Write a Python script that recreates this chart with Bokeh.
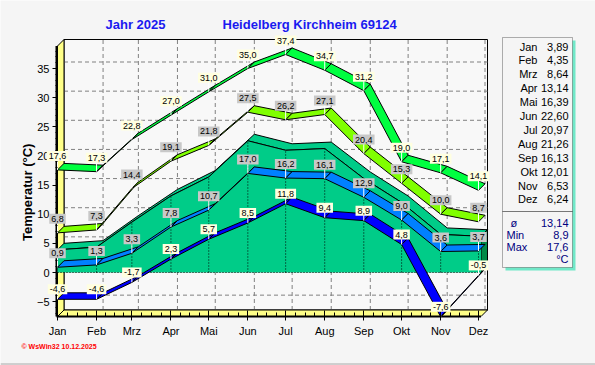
import math
from bokeh.plotting import figure
from bokeh.models import (Range1d, FixedTicker, Label, LabelSet,
                          ColumnDataSource, BoxAnnotation, LinearAxis)
from bokeh.core.properties import value
from bokeh.embed import file_html
from bokeh.resources import INLINE

# ---------------- data ----------------
months = ["Jan", "Feb", "Mrz", "Apr", "Mai", "Jun", "Jul", "Aug", "Sep", "Okt", "Nov", "Dez"]
month_start_day = [0, 31, 59, 90, 120, 151, 181, 212, 243, 273, 304, 334]
t_max = [17.6, 17.3, 22.8, 27.0, 31.0, 35.0, 37.4, 34.7, 31.2, 19.0, 17.1, 14.1]
t_avg_max = [6.8, 7.3, 14.4, 19.1, 21.8, 27.5, 26.2, 27.1, 20.4, 15.3, 10.0, 8.7]
t_mean = [3.89, 4.35, 8.64, 13.14, 16.39, 22.60, 20.97, 21.26, 16.13, 12.01, 6.53, 6.24]
t_avg_min = [0.9, 1.3, 3.3, 7.8, 10.7, 17.0, 16.2, 16.1, 12.9, 9.0, 3.6, 3.7]
t_min = [-4.6, -4.6, -1.7, 2.3, 5.7, 8.5, 11.8, 9.4, 8.9, 4.8, -7.6, -0.5]
stat_names = ["ø", "Min", "Max"]
stat_values = [13.14, 8.9, 17.6]
y_major_ticks = [-5, 0, 5, 10, 15, 20, 25, 30, 35]

# ---------------- layout constants (page pixels) ----------------
PAGE = 0
W, H = 595, 365
FL, FR, FT, FB = 57, 487, 39, 316          # 3D box on page (front-left/back-right)
KX = (478 - 57) / 334                       # px per day
KY = 204 / 35                               # px per degree
Y0 = 272                                    # page y of 0 degC (front)


def X(px):
    return (px - FL) / KX


def Y(py):
    return (Y0 - py) / KY


x_hi = X(FR)
y_lo = Y(FB)
y_hi = Y(FT)
DEPTH = 6.5
DX = DEPTH / KX
DY = DEPTH / KY
XF_END = x_hi - DX                          # front right edge


def fmt1(v):
    return f"{v:.1f}".replace(".", ",")


def fmt2(v):
    return f"{v:.2f}".replace(".", ",")


FONT = "Liberation Sans"
BG = "#F5F5F5"

p = figure(width=W, height=H,
           x_range=Range1d(X(PAGE), X(PAGE + W)), y_range=Range1d(Y(PAGE + H), Y(PAGE)),
           output_backend="svg", toolbar_location=None,
           x_axis_location=None, y_axis_location=None,
           min_border=0, min_border_left=0, min_border_right=0,
           min_border_top=0, min_border_bottom=0)
p.xgrid.visible = False
p.ygrid.visible = False
p.outline_line_color = None
p.background_fill_color = BG
p.border_fill_color = BG

# ---- axes (fixed at the front edges of the 3D box) ----
minor = []
ends = month_start_day[1:] + [365]
for s, e in zip(month_start_day, ends):
    for k in range(1, 4):
        v = s + (e - s) * k / 4
        if v < XF_END:
            minor.append(v)
xax = LinearAxis(fixed_location=y_lo)
xax.ticker = FixedTicker(ticks=month_start_day, minor_ticks=minor)
xax.major_label_overrides = {d: m for d, m in zip(month_start_day, months)}
xax.axis_line_color = None
xax.major_tick_in = 6
xax.major_tick_out = 4
xax.minor_tick_in = 4
xax.minor_tick_out = 0
xax.major_tick_line_color = "black"
xax.minor_tick_line_color = "black"
xax.major_label_standoff = 4
xax.major_label_text_font = FONT
xax.major_label_text_font_size = "11px"
xax.major_label_text_color = "black"
p.add_layout(xax, "below")

y_minor = [v for v in range(-7, 39) if v % 5 != 0]
yax = LinearAxis(fixed_location=0)
yax.ticker = FixedTicker(ticks=y_major_ticks, minor_ticks=y_minor)
yax.axis_line_color = None
yax.major_tick_in = 0
yax.major_tick_out = 5
yax.minor_tick_in = 0
yax.minor_tick_out = 2
yax.major_tick_line_color = "black"
yax.minor_tick_line_color = "black"
yax.major_label_standoff = 3
yax.major_label_text_font = FONT
yax.major_label_text_font_size = "11px"
yax.major_label_text_color = "black"
p.add_layout(yax, "left")

# ---- back wall, grid, side wall, floor ----
p.patch([DX, x_hi, x_hi, DX], [y_lo + DY, y_lo + DY, y_hi, y_hi],
        fill_color="#F8F8F8", line_color="black", line_width=1)
gl_x, gl_y = [], []
for v in y_major_ticks:
    gl_x.append([DX, x_hi]); gl_y.append([v + DY, v + DY])
for d in month_start_day[1:]:
    gl_x.append([d + DX, d + DX]); gl_y.append([y_lo + DY, y_hi])
p.multi_line(gl_x, gl_y, line_color="#808080", line_dash="4 3", line_width=1)
p.patch([0, 0, DX, DX], [y_lo, y_hi - DY, y_hi, y_lo + DY],
        fill_color="#FFFF88", line_color="black", line_width=1)
p.patch([0, XF_END, x_hi, DX], [y_lo, y_lo, y_lo + DY, y_lo + DY],
        fill_color="#FFFF88", line_color="black", line_width=1)
p.line([X(56), X(56)], [y_hi - DY, y_lo], line_color="black", line_width=2)
p.line([X(56), XF_END], [y_lo, y_lo], line_color="black", line_width=2)

# ---- mean area (3D) ----
AREA = "#00CC88"
xf = month_start_day + [XF_END]
yf = t_mean + [t_mean[-1]]
xb = [x + DX for x in xf]
yb = [y + DY for y in yf]
p.patch(xf + xb[::-1], yf + yb[::-1], fill_color=AREA, line_color="black", line_width=1)
p.patch([XF_END, XF_END, x_hi, x_hi], [0, yf[-1], yb[-1], DY],
        fill_color="#008A48", line_color="black", line_width=1)
p.patch(xf + [XF_END, 0], yf + [0, 0], fill_color=AREA, line_color=None)
p.line(xf, yf, line_color="black", line_width=1)
p.multi_line([[d, d] for d in month_start_day[1:]] + [[0, XF_END]],
             [[0, m] for m in t_mean[1:]] + [[0, 0]],
             line_color="black", line_dash="1 2", line_width=1)

# ---- ribbons ----
series = [
    (t_max, "#00FF40", "#FFFFE0", 14),
    (t_avg_max, "#80FF00", "#C8C8C8", 14),
    (t_avg_min, "#0080FF", "#C8C8C8", 14),
    (t_min, "#0000FF", "#FFFFE0", 10),
]
for vals, col, _, _ in series:
    xs, ys = [], []
    for i in range(len(vals) - 1):
        x1, x2 = month_start_day[i], month_start_day[i + 1]
        y1, y2 = vals[i], vals[i + 1]
        xs.append([x1, x2, x2 + DX, x1 + DX])
        ys.append([y1, y2, y2 + DY, y1 + DY])
    p.patches(xs, ys, fill_color=col, line_color="black", line_width=1)

for vals, col, bg, off in series:
    p.segment(x0=month_start_day, y0=vals, x1=month_start_day,
              y1=[v + (off - 4) / KY for v in vals], line_color="white", line_width=1)
    for d, v in zip(month_start_day, vals):
        p.add_layout(Label(x=d, y=v + off / KY, text=fmt1(v), text_align="center",
                           text_baseline="middle", text_font=FONT, text_font_size="9px",
                           text_color="black", background_fill_color=bg,
                           border_line_color=None, padding=2))

# ---- titles ----
p.add_layout(Label(x=X(105), y=Y(24), text="Jahr  2025", text_font=FONT,
                   text_font_size="13px", text_font_style="bold", text_color="#1A1AF0",
                   text_baseline="middle"))
p.add_layout(Label(x=X(222), y=Y(24), text="Heidelberg Kirchheim 69124", text_font=FONT,
                   text_font_size="13px", text_font_style="bold", text_color="#1A1AF0",
                   text_baseline="middle"))
p.add_layout(Label(x=X(27), y=Y(190), text="Temperatur  (°C)", text_font=FONT,
                   text_font_size="13px", text_font_style="bold", text_color="black",
                   text_baseline="middle", text_align="center", angle=math.pi / 2))
p.add_layout(Label(x=X(21), y=Y(346), text="© WsWin32  10.12.2025", text_font=FONT,
                   text_font_size="7px", text_font_style="bold", text_color="#FF0000",
                   text_baseline="middle"))
p.line([X(0), X(595)], [Y(363.5), Y(363.5)], line_color="#A8A8A8", line_width=1)

# ---- legend panel ----
p.add_layout(BoxAnnotation(left=X(505), right=X(575), top=Y(40), bottom=Y(270),
                           fill_color="#70E8C8", fill_alpha=1, line_color=None))
p.add_layout(BoxAnnotation(left=X(502), right=X(572), top=Y(37), bottom=Y(267),
                           fill_color=BG, fill_alpha=1, line_color="black", line_width=1))
p.add_layout(BoxAnnotation(left=X(502), right=X(572), top=Y(211), bottom=Y(211),
                           fill_alpha=0, line_color="black", line_width=1))
row_y = [Y(46 + 13.9 * i) for i in range(12)]
lkw = dict(text_baseline="middle", text_font=value(FONT), text_font_size=value("11px"))
p.add_layout(LabelSet(x="x", y="y", text="t", text_align="right", text_color="black",
                      source=ColumnDataSource(dict(x=[X(537)] * 12, y=row_y, t=months)),
                      **lkw))
p.add_layout(LabelSet(x="x", y="y", text="t", text_align="right", text_color="black",
                      source=ColumnDataSource(dict(x=[X(568)] * 12, y=row_y,
                                                   t=[fmt2(v) for v in t_mean])), **lkw))
stat_y = [Y(222), Y(234.5), Y(246.7)]
p.add_layout(LabelSet(x="x", y="y", text="t", text_align="left", text_color="#000080",
                      source=ColumnDataSource(dict(x=[X(510), X(506), X(506)], y=stat_y,
                                                   t=stat_names)), **lkw))
stat_txt = [fmt2(stat_values[0]), fmt1(stat_values[1]), fmt1(stat_values[2]), "°C"]
p.add_layout(LabelSet(x="x", y="y", text="t", text_align="right", text_color="#000080",
                      source=ColumnDataSource(dict(x=[X(568)] * 4, y=stat_y + [Y(258.5)],
                                                   t=stat_txt)), **lkw))

open("out.html", "w").write(file_html(p, INLINE))
